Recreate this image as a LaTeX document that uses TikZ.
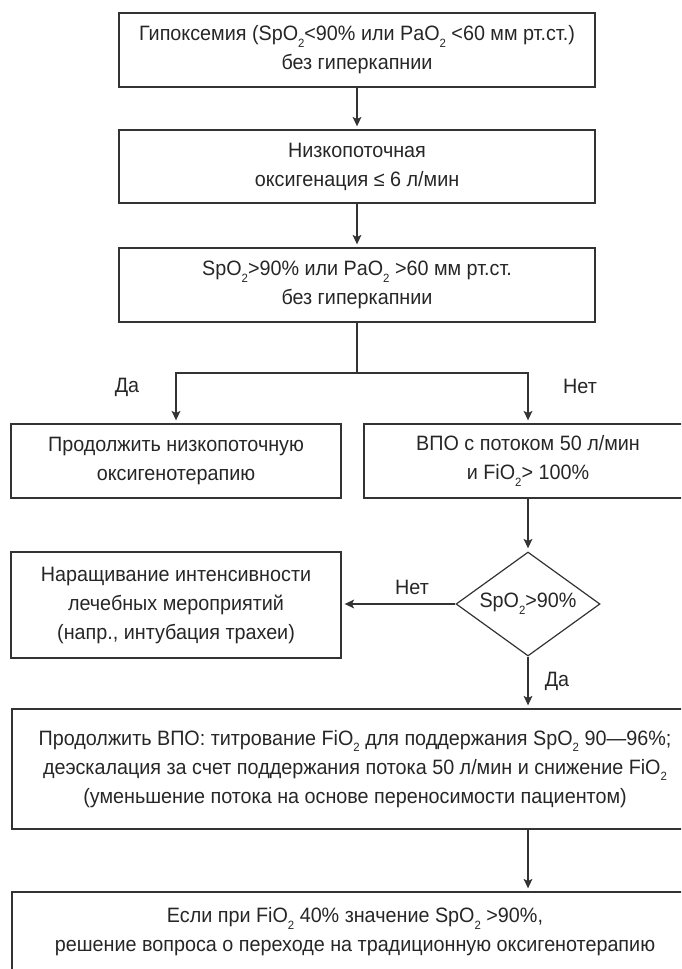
\documentclass[tikz,border=0pt]{standalone}
\usepackage{fontspec}
\setmainfont[FakeStretch=0.95]{Liberation Sans}
\usetikzlibrary{shapes.geometric,arrows.meta}
\newcommand{\ttwo}{\raisebox{-0.6ex}{\fontsize{9pt}{9pt}\selectfont 2}}
\newcommand{\fs}{\fontsize{15.6pt}{21.75pt}\selectfont}
\begin{document}
\begin{tikzpicture}[x=0.75pt,y=-0.75pt,
  box/.style={draw=black!80, line width=0.9pt, align=center, inner sep=0pt, font=\fs, text=black!85},
  arr/.style={draw=black!80, line width=0.9pt, -{Stealth[length=7pt,width=6.5pt,inset=1.5pt]}, shorten >=2.3pt},
  ln/.style={draw=black!80, line width=0.9pt},
  lbl/.style={font=\fs, text=black!85, inner sep=0pt}]
\useasboundingbox (0,0) rectangle (681,969);
\clip (0,0) rectangle (681,969);

\node[box, minimum width=357pt, minimum height=55.5pt] (b1) at (357,50)
  {Гипоксемия (SpO\ttwo<90\% или PaO\ttwo{} <60 мм рт.ст.)\\без гиперкапнии};
\node[box, minimum width=357pt, minimum height=54.75pt] (b2) at (357,166.5)
  {Низкопоточная\\оксигенация ≤ 6 л/мин};
\node[box, minimum width=357pt, minimum height=55.5pt] (b3) at (357,285)
  {SpO\ttwo>90\% или PaO\ttwo{} >60 мм рт.ст.\\без гиперкапнии};
\node[box, minimum width=247.5pt, minimum height=55.5pt] (b4) at (176,461)
  {Продолжить низкопоточную\\оксигенотерапию};
\node[box, minimum width=246pt, minimum height=55.5pt] (b5) at (528,461)
  {ВПО с потоком 50 л/мин\\и FiO\ttwo> 100\%};
\node[box, shape=diamond, aspect=1.385, minimum width=108pt, minimum height=78pt] (d) at (528,604)
  {SpO\ttwo>90\%};
\node[box, minimum width=247.5pt, minimum height=79.5pt] (b6) at (176,605)
  {Наращивание интенсивности\\лечебных мероприятий\\(напр., интубация трахеи)};
\node[box, minimum width=514.5pt, minimum height=90pt] (b7) at (355,769)
  {Продолжить ВПО: титрование FiO\ttwo{} для поддержания SpO\ttwo{} 90—96\%;\\деэскалация за счет поддержания потока 50 л/мин и снижение FiO\ttwo\\(уменьшение потока на основе переносимости пациентом)};
\node[box, minimum width=514.5pt, minimum height=60pt] (b8) at (355,932)
  {Если при FiO\ttwo{} 40\% значение SpO\ttwo{} >90\%,\\решение вопроса о переходе на традиционную оксигенотерапию};

\coordinate (br) at (357,373);

\draw[arr] (b1) -- (b2);
\draw[arr] (b2) -- (b3);
\draw[ln] (b3.south) -- (br);
\draw[arr] (br) -| (b4.north);
\draw[arr] (br) -| (b5.north);
\draw[arr] (b5.south) -- (d.north);
\draw[arr] (d.west) -- (d.west -| b6.east);
\draw[arr] (d.south) -- (d.south |- b7.north);
\draw[arr] (d |- b7.south) -- (d |- b8.north);

\node[lbl] (l1) at (127,387) {Да};
\node[lbl] (l2) at (580,386) {Нет};
\node[lbl] (l3) at (412,587) {Нет};
\node[lbl] (l4) at (557,681) {Да};
\end{tikzpicture}
\end{document}
